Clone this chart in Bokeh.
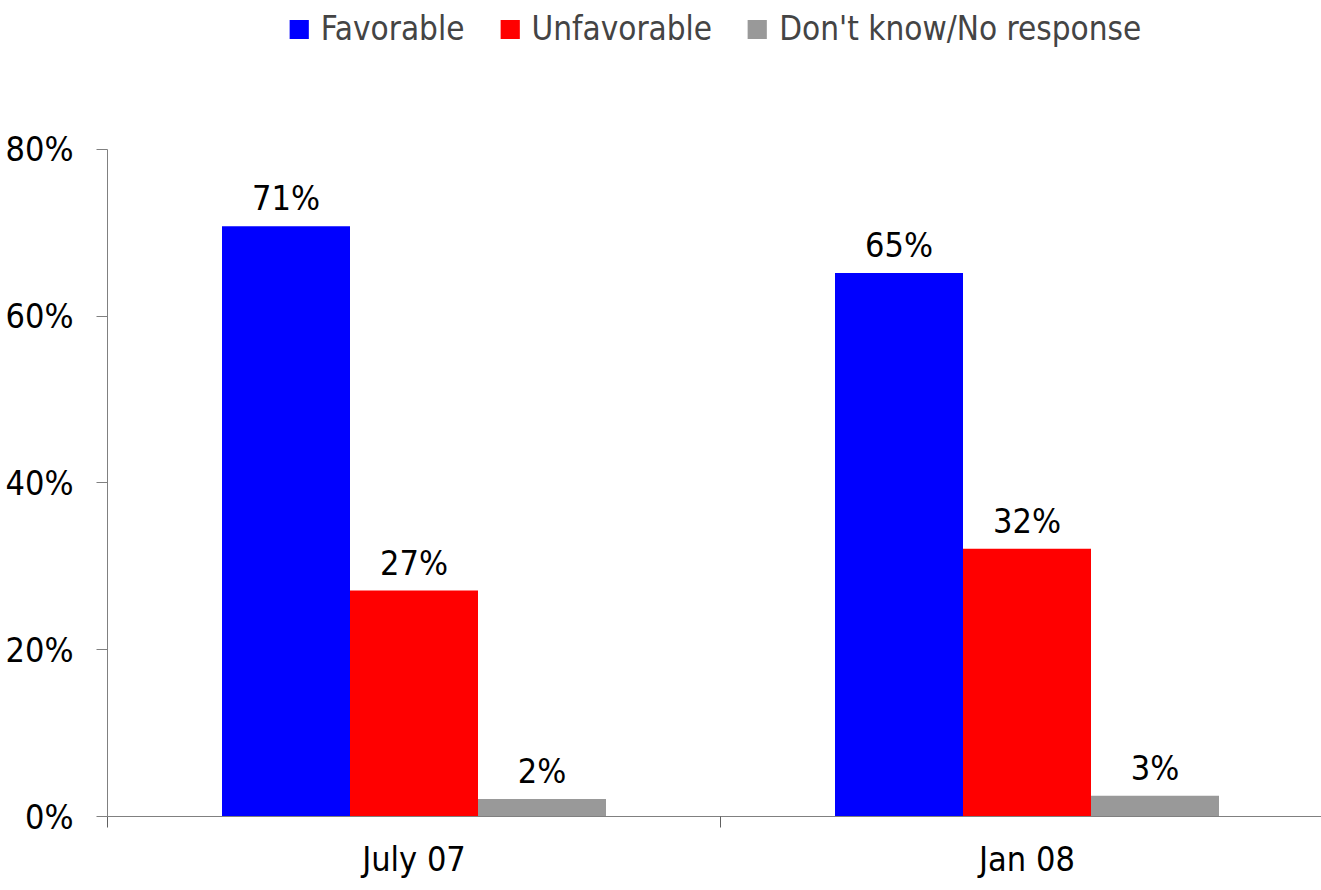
from bokeh.plotting import figure
from bokeh.models import FixedTicker, PrintfTickFormatter, Legend, LegendItem, ColumnDataSource, Range1d
from bokeh.core.properties import value
from bokeh.embed import file_html
from bokeh.resources import INLINE

categories = ["July 07", "Jan 08"]
series = ["Favorable", "Unfavorable", "Don't know/No response"]
favorable = [70.8, 65.2]
unfavorable = [27.1, 32.1]
dont_know = [2.1, 2.5]
favorable_labels = ["71%", "65%"]
unfavorable_labels = ["27%", "32%"]
dont_know_labels = ["2%", "3%"]
y_ticks = [0, 20, 40, 60, 80]

colors = ["#0000FF", "#FF0000", "#999999"]
FONT = "'Liberation Sans Narrow', 'DejaVu Sans Condensed', 'Liberation Sans', sans-serif"
FS = "34px"

bar_w = 128 / 613
offsets = [-bar_w, 0, bar_w]

p = figure(width=1321, height=882, x_range=Range1d(0, 1214 / 613), y_range=Range1d(0, 97.87),
           output_backend="svg", toolbar_location=None,
           min_border_left=107, min_border_right=0, min_border_top=0, min_border_bottom=66)
p.outline_line_color = None
p.xgrid.visible = False
p.ygrid.visible = False

items = []
for vals, labs, name, col, off in zip([favorable, unfavorable, dont_know],
                                      [favorable_labels, unfavorable_labels, dont_know_labels],
                                      series, colors, offsets):
    src = ColumnDataSource(dict(x=[i + 0.5 + off for i in range(len(categories))], top=vals, lab=labs))
    r = p.vbar(x="x", top="top", width=bar_w, bottom=0, source=src, fill_color=col, line_color=None)
    p.text(x="x", y="top", text="lab", source=src, text_align="center", text_baseline="alphabetic",
           y_offset=-28, text_font=value(FONT), text_font_size=FS, text_color="black")
    items.append(LegendItem(label=name, renderers=[r]))

legend = Legend(items=items, orientation="horizontal", location="top_center",
                border_line_color=None, background_fill_alpha=0,
                glyph_width=24, glyph_height=24, label_standoff=10, spacing=33,
                label_text_font=FONT, label_text_font_size="33px", margin=9, padding=0)
p.add_layout(legend, "center")

ya = p.yaxis[0]
ya.ticker = FixedTicker(ticks=y_ticks)
ya.formatter = PrintfTickFormatter(format="%d%%")
ya.bounds = (0, 80)
ya.major_tick_out = 11
ya.major_tick_in = 0
ya.minor_tick_out = 0
ya.axis_line_color = "#808080"
ya.major_tick_line_color = "#808080"
ya.major_label_standoff = 23
ya.major_label_text_font = FONT
ya.major_label_text_font_size = FS
ya.major_label_text_color = "black"

xa = p.xaxis[0]
xa.ticker = FixedTicker(ticks=[i + 0.5 for i in range(len(categories))],
                        minor_ticks=[i for i in range(len(categories) + 1)])
xa.major_label_overrides = {i + 0.5: c for i, c in enumerate(categories)}
xa.major_label_standoff = 11
xa.major_tick_out = 0
xa.major_tick_in = 0
xa.minor_tick_out = 11
xa.minor_tick_in = 0
xa.axis_line_color = "#808080"
xa.minor_tick_line_color = "#606060"
xa.major_label_text_font = FONT
xa.major_label_text_font_size = FS
xa.major_label_text_color = "black"

open("out.html", "w").write(file_html(p, INLINE))
